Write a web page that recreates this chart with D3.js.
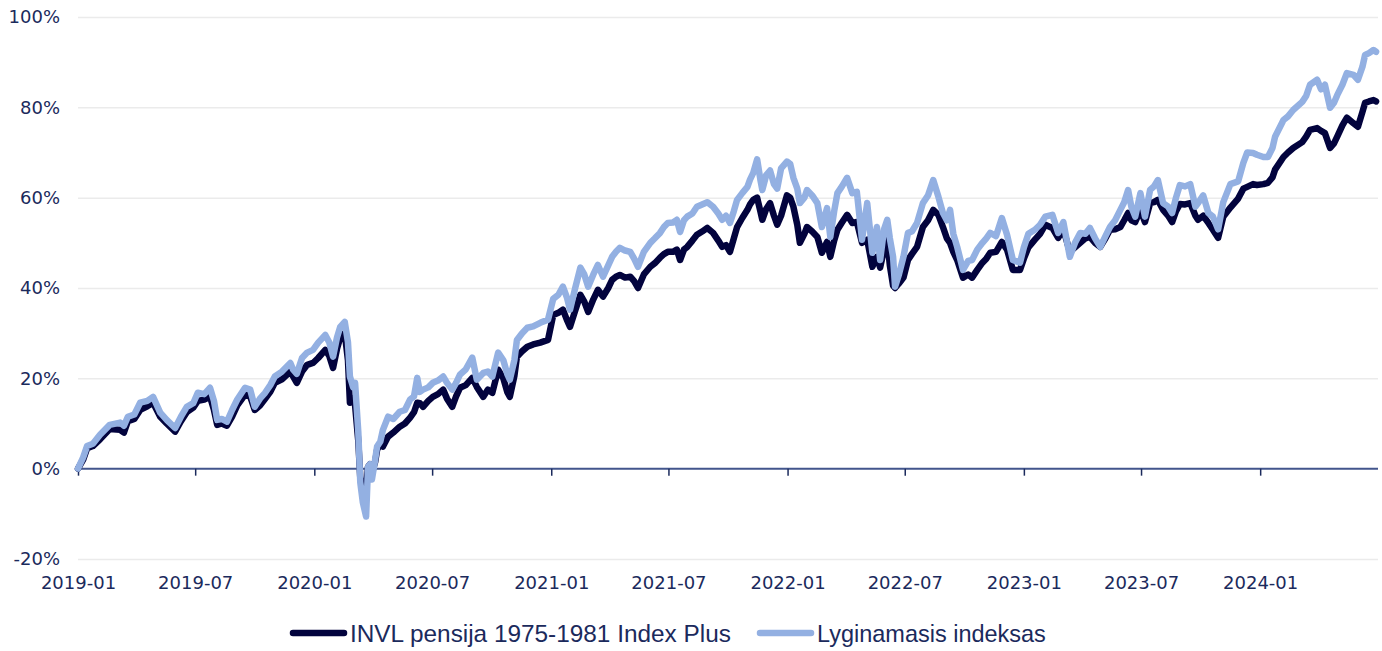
<!DOCTYPE html>
<html>
<head>
<meta charset="utf-8">
<script src="https://cdn.jsdelivr.net/npm/d3@7"></script>
<style>
  html, body { margin: 0; padding: 0; background: #ffffff; }
  svg { display: block; }
</style>
</head>
<body>
<svg id="chart" width="1382" height="651"></svg>
<script>
// ---------- DATA ----------
const seriesNames = ["INVL pensija 1975-1981 Index Plus", "Lyginamasis indeksas"];
const yTicks = [-20, 0, 20, 40, 60, 80, 100];
const xTickLabels = ["2019-01","2019-07","2020-01","2020-07","2021-01","2021-07","2022-01","2022-07","2023-01","2023-07","2024-01"];

const dates = [
"2019-01-01","2019-01-09","2019-01-15","2019-01-24","2019-02-04","2019-02-19","2019-03-07","2019-03-13","2019-03-19","2019-03-29",
"2019-04-07","2019-04-18","2019-04-27","2019-05-08","2019-05-18","2019-05-31","2019-06-09","2019-06-18","2019-06-28","2019-07-05",
"2019-07-15","2019-07-24","2019-07-30","2019-08-04","2019-08-11","2019-08-19","2019-08-27","2019-09-04","2019-09-16","2019-09-24",
"2019-10-01","2019-10-09","2019-10-17","2019-10-25","2019-11-01","2019-11-12","2019-11-25","2019-11-29","2019-12-05","2019-12-13",
"2019-12-21","2019-12-30","2020-01-07","2020-01-18","2020-01-24","2020-01-30","2020-02-05","2020-02-10","2020-02-17","2020-02-22",
"2020-02-25","2020-03-01","2020-03-04","2020-03-09","2020-03-12","2020-03-16","2020-03-21","2020-03-24","2020-03-27","2020-03-30",
"2020-04-04","2020-04-07","2020-04-12","2020-04-16","2020-04-24","2020-05-02","2020-05-12","2020-05-20","2020-05-28","2020-06-03",
"2020-06-08","2020-06-12","2020-06-17","2020-06-25","2020-07-02","2020-07-10","2020-07-18","2020-07-24","2020-08-01","2020-08-07",
"2020-08-13","2020-08-22","2020-09-01","2020-09-08","2020-09-18","2020-09-25","2020-10-02","2020-10-11","2020-10-19","2020-10-25",
"2020-10-29","2020-11-05","2020-11-09","2020-11-17","2020-11-25","2020-12-04","2020-12-15","2020-12-27","2021-01-04","2021-01-12",
"2021-01-19","2021-01-25","2021-01-30","2021-02-07","2021-02-15","2021-02-21","2021-02-27","2021-03-07","2021-03-14","2021-03-22",
"2021-03-30","2021-04-05","2021-04-11","2021-04-17","2021-04-25","2021-05-03","2021-05-09","2021-05-15","2021-05-24","2021-06-03",
"2021-06-10","2021-06-18","2021-06-24","2021-06-30","2021-07-08","2021-07-14","2021-07-19","2021-07-25","2021-07-30","2021-08-07",
"2021-08-14","2021-08-22","2021-08-30","2021-09-08","2021-09-16","2021-09-22","2021-09-28","2021-10-04","2021-10-10","2021-10-15",
"2021-10-23","2021-10-31","2021-11-04","2021-11-09","2021-11-15","2021-11-20","2021-11-23","2021-11-29","2021-12-05","2021-12-11",
"2021-12-16","2021-12-22","2021-12-31","2022-01-05","2022-01-10","2022-01-16","2022-01-20","2022-01-27","2022-01-31","2022-02-08",
"2022-02-16","2022-02-23","2022-03-03","2022-03-08","2022-03-14","2022-03-19","2022-03-26","2022-04-03","2022-04-11","2022-04-18",
"2022-04-26","2022-05-04","2022-05-12","2022-05-19","2022-05-24","2022-05-30","2022-06-04","2022-06-08","2022-06-13","2022-06-16",
"2022-06-22","2022-06-29","2022-07-06","2022-07-12","2022-07-20","2022-07-29","2022-08-06","2022-08-14","2022-08-22","2022-08-29",
"2022-09-04","2022-09-09","2022-09-14","2022-09-20","2022-09-29","2022-10-07","2022-10-13","2022-10-21","2022-10-29","2022-11-04",
"2022-11-10","2022-11-19","2022-11-28","2022-12-06","2022-12-15","2022-12-26","2023-01-01","2023-01-08","2023-01-18","2023-01-26",
"2023-02-03","2023-02-14","2023-02-23","2023-03-03","2023-03-13","2023-03-21","2023-03-29","2023-04-06","2023-04-13","2023-04-21",
"2023-04-29","2023-05-07","2023-05-14","2023-05-22","2023-05-30","2023-06-05","2023-06-11","2023-06-16","2023-06-22","2023-06-30",
"2023-07-07","2023-07-15","2023-07-21","2023-07-27","2023-08-04","2023-08-12","2023-08-18","2023-08-24","2023-08-30","2023-09-07",
"2023-09-15","2023-09-23","2023-09-27","2023-10-05","2023-10-13","2023-10-20","2023-10-28","2023-11-05","2023-11-16","2023-11-28",
"2023-12-06","2023-12-12","2023-12-21","2023-12-27","2024-01-06","2024-01-13","2024-01-20","2024-01-24","2024-02-06","2024-02-13",
"2024-02-21","2024-03-06","2024-03-12","2024-03-18","2024-03-29","2024-04-04","2024-04-10","2024-04-18","2024-04-24","2024-04-29",
"2024-05-07","2024-05-14","2024-05-24","2024-05-31","2024-06-07","2024-06-11","2024-06-17","2024-06-24","2024-06-28"
];

// INVL pensija 1975-1981 Index Plus (%)
const fundValues = [
0,2,4.5,5,6.5,8.8,8.6,8,10.5,11,
13,13.8,14.6,11.5,10,8.2,10.5,12.5,13.5,15,
15.3,15.9,13,9.7,10,9.5,11.5,14,16.4,16,
13,14,15.5,17,19,19.8,21.5,20.5,19,21.5,
23,23.4,24.5,26.3,25,22.3,26.5,29,30,24,
14.6,15.5,14,6,-2,-4.5,-4.6,0.4,1,-1,
1.5,4.2,5.5,4.9,7.1,8,9.3,10,11.3,12.5,
14.6,14.5,13.7,15,15.9,16.5,17.5,15.5,13.7,16,
17.9,18.5,20.1,18.1,15.9,17.5,16.8,21.9,20,17,
15.9,20.5,24.8,26,27,27.5,27.9,28.5,34,34.5,
35.2,33,31.4,35,38.5,37,34.7,37.5,39.6,38.1,
40,41.8,42.5,42.9,42.3,42.5,41.5,40,43,44.7,
45.5,46.7,47.5,48,48,48.5,46.2,48.5,49.1,50.5,
51.8,52.5,53.3,52.2,50.5,49.1,49.5,48,51,53.5,
55.5,57.3,58.5,59.5,60,57,55.1,57.5,58.8,56,
54,56,60.5,60,58,54,50,52,53.5,52.5,
51.3,47.8,50.2,46.9,50.5,52.9,54.5,56.2,54.4,54.6,
50,50.7,44.7,46.9,44.5,48.5,50.7,45,40.5,40,
41,42.3,46.2,47.5,49.1,53.5,55,57.3,56.2,53.5,
51,50,48,46.2,42.3,43,42.3,44,45.6,46.5,
47.8,48,50.2,48.5,44,44,46.5,49,50.7,52,
54,53.3,51.1,53,48,49,50,51,51.3,50,
49.1,51,52.9,53,53.5,55,56.6,55,54.6,57.3,
54.6,58.8,59,59.5,57.3,56,54.6,57,58.6,58.5,
58.8,56,55.1,56,54.4,52.9,51.1,55.8,57.8,59.8,
62,62.4,63,62.8,63,63.3,64.5,66.2,69,70,
71,72.3,73.5,75,75.4,74.8,74.3,71,72,73.5,
76,77.7,76.5,75.7,79,81,81.3,81.6,81.3
];

// Lyginamasis indeksas (%)
const benchValues = [
0,2.5,5,5.5,7.5,9.7,10.2,9.5,11.5,12,
14.6,15,15.9,12.4,10.8,9,11.5,13.7,14.5,16.8,
16.5,17.9,15,10.8,11,10.4,13,15.3,17.9,17.5,
13.7,15.5,16.8,18.5,20.4,21.5,23.4,22,21,24.5,
25.7,26.3,27.9,29.6,28,24.8,29,31.4,32.5,28,
20.4,18,19,8,-3,-7.5,-10.6,0.4,1,-2.4,
2,4.9,6,8.6,11.5,11,12.6,13,15.3,16,
20.1,17,17.5,18,19,19.5,20.4,19,17.5,19,
20.8,22,24.6,19.7,21.2,21.5,20.4,25.7,24,21,
19.7,24,28.5,30,31.2,31.5,32.3,33,37.6,38.5,
40.3,38,35.2,40,44.5,43,40.3,43,45.1,42.5,
45,46.9,48,48.9,48.3,48,46.5,44.7,48,50,
51,52.2,53.5,54.4,54.5,55.1,52.4,55,55.8,56.5,
58,58.5,59,58,56.5,55.1,56,54.4,57,59.5,
61,62.4,64,65.5,68.5,64,61.7,65,66,63,
62,66.5,68,67.5,64.4,62,58.8,60,61.7,60.5,
58.8,53.5,57.7,51.3,57,61,62.5,64.4,61,61.3,
50.7,58.8,47.8,53.5,46.2,53,55.1,51,46.9,40.3,
43,46.9,52.2,52.5,54.4,58.8,60.5,63.9,60.2,56.6,
55,57.3,52,49.1,44,46,46.2,48.5,50,51,
52.2,51.5,55.5,51.8,46.2,45.6,49,52,52.9,54,
55.8,56.2,52.2,54.6,46.9,50,52.2,52,53.3,51,
49.1,51.5,53.5,55,57.3,59,61.7,58,55.8,61,
55.8,61.7,62.5,63.9,58.8,58,56.6,60,62.8,62.5,
63,58,58.8,60.5,56.6,55.8,53,59,63,63.6,
67.7,70,69.9,69.5,69,69,71,73.5,77.2,78,
79.4,81.2,82.5,85,86.1,84,85,79.9,81,82.7,
85,87.6,87.2,86.1,89,91.6,92,92.7,92.3
];

// ---------- CHART ----------
const textColor = "#1b2a5c";
const colors = ["#02033d", "#93b0e2"];

const svg = d3.select("#chart");
const parse = d3.timeParse("%Y-%m-%d");
const parseM = d3.timeParse("%Y-%m");

const x = d3.scaleTime()
  .domain([parse("2019-01-01"), parse("2024-07-01")])
  .range([78, 1378]);
const y = d3.scaleLinear()
  .domain([-20, 100])
  .range([559, 17]);

// Y axis with gridlines
const yAxis = d3.axisLeft(y)
  .tickValues(yTicks)
  .tickSize(-(1378 - 78))
  .tickPadding(18)
  .tickFormat(d => d + "%");
const gy = svg.append("g").attr("transform", "translate(78,0)").call(yAxis);
gy.select(".domain").remove();
gy.selectAll(".tick line").attr("stroke", "#ebebeb").attr("stroke-width", 1.5)
  .filter(d => d === 0).attr("stroke", "none");
gy.selectAll(".tick text")
  .attr("fill", textColor)
  .style("font-family", "'DejaVu Sans', Verdana, sans-serif")
  .style("font-size", "18px");

// X axis on zero line
const xAxis = d3.axisBottom(x)
  .tickValues(xTickLabels.map(parseM))
  .tickSize(7)
  .tickPadding(101)
  .tickFormat(d3.timeFormat("%Y-%m"));
const gx = svg.append("g").attr("transform", `translate(0,${y(0)})`).call(xAxis);
gx.select(".domain").attr("stroke", "#42558c").attr("stroke-width", 2)
  .attr("d", `M78,0H1378`);
gx.selectAll(".tick line").attr("stroke", "#1b2a5c").attr("stroke-width", 1.5);
gx.selectAll(".tick text")
  .attr("fill", textColor)
  .style("font-family", "'DejaVu Sans', Verdana, sans-serif")
  .style("font-size", "18px");

// Lines
const data = dates.map((d, i) => ({ date: parse(d), fund: fundValues[i], bench: benchValues[i] }));
const lineFund = d3.line().x(d => x(d.date)).y(d => y(d.fund));
const lineBench = d3.line().x(d => x(d.date)).y(d => y(d.bench));

svg.append("path").datum(data)
  .attr("d", lineFund)
  .attr("fill", "none")
  .attr("stroke", colors[0])
  .attr("stroke-width", 6.5)
  .attr("stroke-linejoin", "round")
  .attr("stroke-linecap", "round");
svg.append("path").datum(data)
  .attr("d", lineBench)
  .attr("fill", "none")
  .attr("stroke", colors[1])
  .attr("stroke-width", 6.5)
  .attr("stroke-linejoin", "round")
  .attr("stroke-linecap", "round");

// Legend
const legendItems = [
  { name: seriesNames[0], color: colors[0], x0: 293, x1: 344, tx: 350, len: 381 },
  { name: seriesNames[1], color: colors[1], x0: 760, x1: 811, tx: 817, len: 229 }
];
const lg = svg.append("g");
legendItems.forEach(it => {
  lg.append("line")
    .attr("x1", it.x0).attr("x2", it.x1)
    .attr("y1", 633).attr("y2", 633)
    .attr("stroke", it.color).attr("stroke-width", 6.5)
    .attr("stroke-linecap", "round");
  const t = lg.append("text")
    .attr("x", 0).attr("y", 0)
    .attr("fill", textColor)
    .style("font-family", "'Liberation Sans', Arial, sans-serif")
    .style("font-size", "24px")
    .text(it.name);
  const w = t.node().getComputedTextLength();
  const s = it.len / w;
  t.attr("transform", `translate(${it.tx},642) scale(${s},1)`);
});
</script>
</body>
</html>
